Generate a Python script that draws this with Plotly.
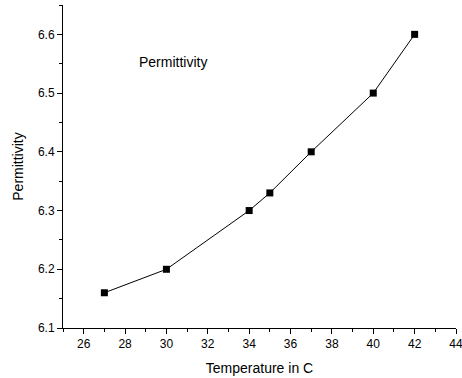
import plotly.graph_objects as go

temperature = [27, 30, 34, 35, 37, 40, 42]
permittivity = [6.16, 6.2, 6.3, 6.33, 6.4, 6.5, 6.6]

fig = go.Figure()
fig.add_trace(go.Scatter(
    x=temperature, y=permittivity, mode="lines+markers",
    line=dict(color="black", width=1),
    marker=dict(symbol="square", size=7, color="black"),
    showlegend=False,
))
fig.add_annotation(text="Permittivity", xref="x", yref="y", x=30.3, y=6.553,
                   xanchor="center", yanchor="middle",
                   showarrow=False, font=dict(size=14, color="black"))
fig.update_layout(
    width=462, height=378,
    margin=dict(l=63, r=6, t=5, b=50),
    paper_bgcolor="white", plot_bgcolor="white",
    font=dict(family="Liberation Sans, Arial, sans-serif", size=12, color="black"),
)
fig.update_xaxes(
    range=[25, 44], tickmode="array", tickvals=list(range(26, 45, 2)),
    showline=True, linecolor="black", linewidth=1, showgrid=False, zeroline=False,
    ticks="outside", ticklen=5, tickcolor="black", automargin=False,
    ticklabeloverflow="allow",
    minor=dict(tickvals=list(range(25, 45, 2)), ticks="outside", ticklen=3, tickcolor="black", showgrid=False),
    title=dict(text="Temperature in C", font=dict(size=14), standoff=12),
)
fig.update_yaxes(
    range=[6.1, 6.65], tickmode="array", tickvals=[6.1, 6.2, 6.3, 6.4, 6.5, 6.6],
    ticktext=["6.1", "6.2", "6.3", "6.4", "6.5", "6.6"],
    showline=True, linecolor="black", linewidth=1, showgrid=False, zeroline=False,
    ticks="outside", ticklen=5, tickcolor="black", automargin=False,
    minor=dict(tickvals=[6.15, 6.25, 6.35, 6.45, 6.55, 6.65], ticks="outside", ticklen=3, tickcolor="black", showgrid=False),
    title=dict(text="Permittivity", font=dict(size=14), standoff=11),
)
fig.write_html("out.html", config={"displayModeBar": False},
               post_script="document.body.style.margin='0';document.body.style.overflow='hidden';")
